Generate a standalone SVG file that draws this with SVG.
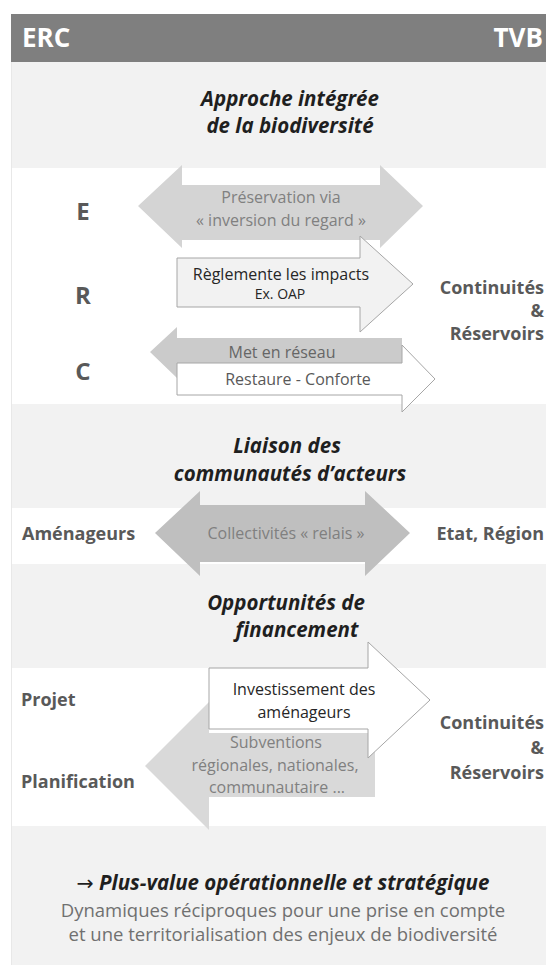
<svg xmlns="http://www.w3.org/2000/svg" width="546" height="970" viewBox="0 0 546 970">
<style>
text{font-family:"Open Sans","Noto Sans","Liberation Sans",sans-serif}
.hdr{font-weight:bold;font-size:26px;fill:#ffffff}
.ttl{font-weight:bold;font-style:italic;font-size:20.5px;fill:#1f1f1f;text-anchor:middle}
.lab{font-weight:bold;font-size:18px;fill:#595959}
.big{font-weight:bold;font-size:24px;fill:#595959;text-anchor:middle}
.gt{font-size:16px;fill:#808080;text-anchor:middle}
.dt{font-size:16px;fill:#262626;text-anchor:middle}
.end{text-anchor:end}
.band{fill:#f2f2f2}
.wband{fill:#ffffff}
.out{stroke:#a6a6a6;stroke-width:1}
</style>
<rect x="0" y="0" width="546" height="970" fill="#ffffff"/>
<g id="background">
<rect x="11" y="14" width="535" height="48" fill="#7f7f7f"/>
<rect class="band" x="11" y="62" width="535" height="106"/>
<rect class="wband" x="11" y="168" width="535" height="236"/>
<rect class="band" x="11" y="404" width="535" height="104"/>
<rect class="wband" x="11" y="508" width="535" height="56"/>
<rect class="band" x="11" y="564" width="535" height="104"/>
<rect class="wband" x="11" y="668" width="535" height="158"/>
<rect class="band" x="11" y="826" width="535" height="139"/>
<line x1="11.5" y1="62" x2="11.5" y2="965" stroke="#e8e8e8"/>
</g>
<g id="header">
<text class="hdr" x="22" y="47">ERC</text>
<text class="hdr end" x="543" y="47">TVB</text>
</g>
<g id="title-approche">
<text class="ttl" x="290" y="106">Approche intégrée</text>
<text class="ttl" x="290" y="133">de la biodiversité</text>
</g>
<g id="letters">
<text class="big" x="83" y="220">E</text>
<text class="big" x="83" y="304">R</text>
<text class="big" x="83" y="380">C</text>
</g>
<g id="connectors">
<g id="arrow-E">
<polygon points="138,206 182,165 182,185 380,185 380,165 423,206 380,248 380,240 182,240 182,248" fill="#d4d4d4"/>
<text class="gt" x="281" y="203">Préservation via</text>
<text class="gt" x="281" y="226">« inversion du regard »</text>
</g>
<g id="arrow-R">
<polygon class="out" points="177,258 360,258 360,236 413,284 360,332 360,307 177,307" fill="#f2f2f2"/>
<text class="dt" x="281" y="280">Règlemente les impacts</text>
<text class="dt" x="280" y="299" style="font-size:14px">Ex. OAP</text>
</g>
<g id="arrow-C-reseau">
<polygon points="150,352 177,327 177,338 402,338 402,367 177,367 177,378" fill="#cbcbcb"/>
<text class="gt" x="282" y="358" style="fill:#666666">Met en réseau</text>
</g>
<g id="arrow-C-restaure">
<polygon class="out" points="177,363 402,363 402,345 435,379 402,412 402,395 177,395" fill="#ffffff"/>
<text class="gt" x="298" y="385" style="fill:#595959">Restaure  - Conforte</text>
</g>
<g id="arrow-collectivites">
<polygon points="155,533 200,491 200,505 365,505 365,491 410,533 365,576 365,562 200,562 200,576" fill="#bfbfbf"/>
<text class="gt" x="286" y="539">Collectivités « relais »</text>
</g>
<g id="arrow-subventions">
<polygon points="145,766 209,702 209,733 375,733 375,797 209,797 209,830" fill="#d9d9d9"/>
<text class="gt" x="276" y="748">Subventions</text>
<text class="gt" x="275" y="771">régionales, nationales,</text>
<text class="gt" x="277" y="793">communautaire ...</text>
</g>
<g id="arrow-investissement">
<polygon class="out" points="209,668 368,668 368,642 430,700 368,758 368,729 209,729" fill="#ffffff"/>
<text class="dt" x="304" y="695">Investissement des</text>
<text class="dt" x="304" y="718">aménageurs</text>
</g>
</g>
<g id="tvb-1">
<text class="lab end" x="544" y="294">Continuités</text>
<text class="lab end" x="544" y="317">&amp;</text>
<text class="lab end" x="544" y="340">Réservoirs</text>
</g>
<g id="title-liaison">
<text class="ttl" x="287" y="453">Liaison des</text>
<text class="ttl" x="290" y="481">communautés d’acteurs</text>
</g>
<g id="amenageurs">
<text class="lab" x="22" y="540">Aménageurs</text>
</g>
<g id="etat-region">
<text class="lab end" x="544" y="540">Etat, Région</text>
</g>
<g id="title-financement">
<text class="ttl" x="286" y="610">Opportunités de</text>
<text class="ttl" x="297" y="637">financement</text>
</g>
<g id="projet">
<text class="lab" x="21" y="706">Projet</text>
</g>
<g id="planification">
<text class="lab" x="21" y="788">Planification</text>
</g>
<g id="tvb-2">
<text class="lab end" x="544" y="729">Continuités</text>
<text class="lab end" x="544" y="754">&amp;</text>
<text class="lab end" x="544" y="779">Réservoirs</text>
</g>
<g id="conclusion">
<text class="ttl" x="283" y="890"><tspan style="font-style:normal;font-family:'DejaVu Sans',sans-serif;font-weight:normal">→</tspan> Plus-value opérationnelle et stratégique</text>
<text class="gt" x="283" y="917" style="font-size:18.5px;fill:#707070">Dynamiques réciproques pour une prise en compte</text>
<text class="gt" x="283" y="941" style="font-size:18.5px;fill:#707070">et une territorialisation des enjeux de biodiversité</text>
</g>
</svg>
